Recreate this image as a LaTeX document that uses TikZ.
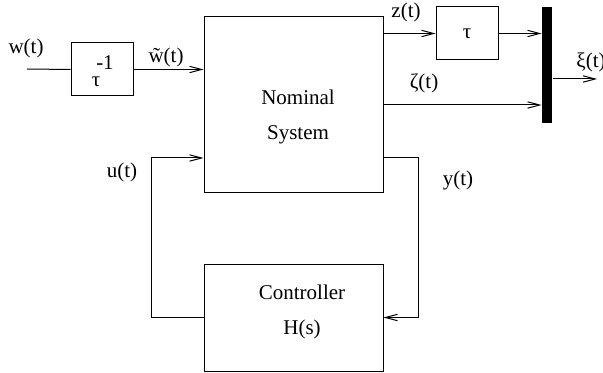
\documentclass[tikz,border=0pt]{standalone}
\usepackage{fontspec}
\setmainfont{Liberation Serif}
\usetikzlibrary{arrows.meta, positioning, calc}

\begin{document}
\begin{tikzpicture}[x=0.5pt, y=-0.5pt, >={Straight Barb[length=6pt,width=3.2pt]},
    line width=0.5pt, font=\fontsize{10.5}{17.5}\selectfont,
    blk/.style={draw, rectangle, inner sep=0pt}]

            \useasboundingbox (0,0) rectangle (603,373);

            % Blocks
            \node[blk, minimum width=31pt, minimum height=26.5pt] (inv) at (102,69.5) {};
            \node at (96,82) {τ};
            \node at (105,63) {-1};
            \node[blk, minimum width=89.5pt, minimum height=88pt] (nom) at (293.5,105) {};
            \node[align=center] (nomtxt) at (298,117) {Nominal\\System};
            \node[blk, minimum width=31pt, minimum height=26.5pt] (dly) at (467,33.5) {τ};
            \node[fill=black, inner sep=0pt, minimum width=5pt, minimum height=58pt] (bar) at (547,65) {};
            \node[blk, minimum width=89.5pt, minimum height=53.5pt] (ctrl) at (293.5,317.5) {};
            \node[align=center] (ctrltxt) at (302,312) {Controller\\H(s)};

            \coordinate (win) at (27,69);
            \coordinate (xi) at (597,79);
            \coordinate (yo) at (418,158);
            \coordinate (uo) at (151,158);

            % Signals
            \draw (win) -- (inv.west);
            \draw[->] (inv.east) -- (inv.east -| nom.west);
            \draw[->] (dly.west -| nom.east) -- (dly.west);
            \draw[->] (dly.east) -- (dly.east -| bar.west);
            \draw[->] (nom.east) -- (nom.east -| bar.west);
            \draw[->] (bar.east |- xi) -- (xi);

            % Feedback loop
            \draw[->] (yo -| nom.east) -- (yo) |- (ctrl.east);
            \draw[->] (ctrl.west) -| (uo) -- (uo -| nom.west);

            % Labels
            \node (lw) at (26,48) {w(t)};
            \node (lwt) at (166,57) {\~w(t)};
            \node (lz) at (406,12) {z(t)};
            \node (lxi) at (591,62) {ξ(t)};
            \node (lzeta) at (424,83) {ζ(t)};
            \node (lu) at (122,172) {u(t)};
            \node (ly) at (458,180) {y(t)};

        \end{tikzpicture}
\end{document}
